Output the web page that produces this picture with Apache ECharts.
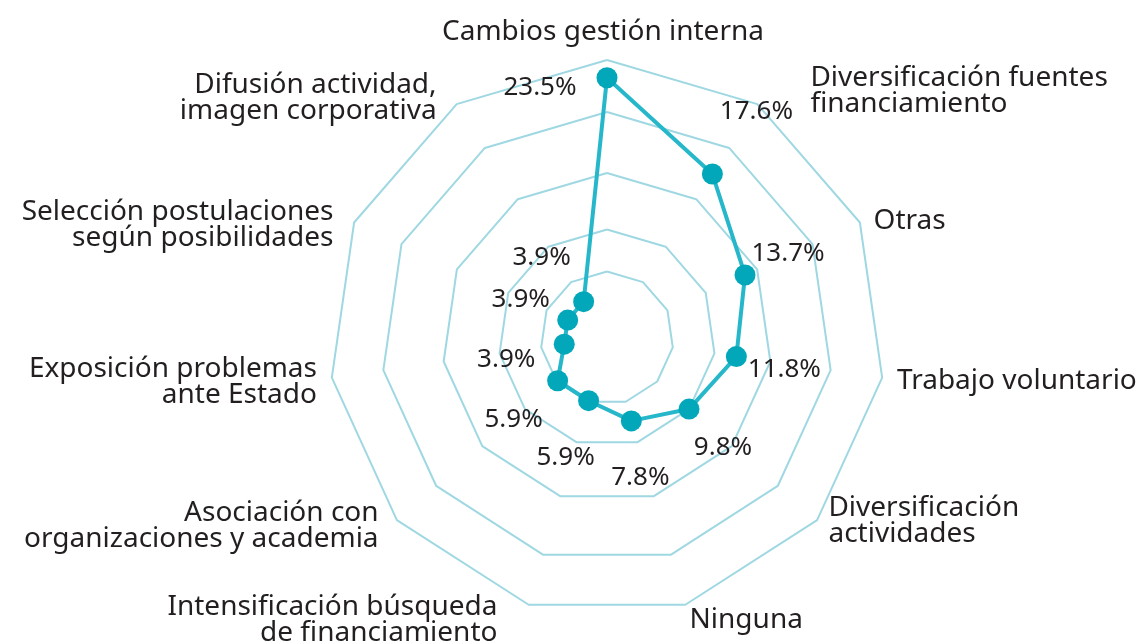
<!DOCTYPE html>
<html>
<head>
<meta charset="utf-8">
<script src="https://cdn.jsdelivr.net/npm/echarts@6/dist/echarts.min.js"></script>
<style>
  html, body { margin: 0; padding: 0; background: #fff; }
  #chart { width: 1137px; height: 641px; }
</style>
</head>
<body>
<div id="chart"></div>
<script>
// ejes en sentido horario, desde arriba
const categories = [
  'Cambios gestión interna',
  'Diversificación fuentes\nfinanciamiento',
  'Otras',
  'Trabajo voluntario',
  'Diversificación\nactividades',
  'Ninguna',
  'Intensificación búsqueda\nde financiamiento',
  'Asociación con\norganizaciones y academia',
  'Exposición problemas\nante Estado',
  'Selección postulaciones\nsegún posibilidades',
  'Difusión actividad,\nimagen corporativa'
];
const values = [23.5, 17.6, 13.7, 11.8, 9.8, 7.8, 5.9, 5.9, 3.9, 3.9, 3.9];
const ringLevels = [6, 9.8, 14.9, 20.4, 25.1];
const axisMax = 25.1;

// layout (px)
const CX = 607, CY = 338, RADIUS = 278;
const nameShift = [[-8, 0], [45, 0], [0, 5], [0, 1], [0, -9], [0, 1], [-27, 1], [-7, -4], [0, 2], [-7, 9], [-12, 7]];
const labelOffsets = [[-67, 10], [44, -62], [43, -21], [48, 13], [34, 39], [9, 57], [-23, 57], [-44, 39], [-58, 15], [-47, -20], [-42, -44]];

const TEXT = '#231f20';
const FONT = 'Noto Sans';
const n = categories.length;

// echarts dibuja los ejes en sentido antihorario -> reordenar
const order = categories.map((_, i) => (n - i) % n);

const rich = {};
nameShift.forEach(([dx, dy], k) => {
  rich['n' + k] = {
    color: TEXT, fontFamily: FONT, fontSize: 28, lineHeight: 26,
    padding: [Math.max(2 * dy, 0), Math.max(-dx, 0), Math.max(-2 * dy, 0), Math.max(dx, 0)]
  };
});

const chart = echarts.init(document.getElementById('chart'));

const ringSeries = ringLevels.map(level => ({
  type: 'radar',
  silent: true,
  symbol: 'none',
  z: 1,
  lineStyle: { color: '#9fd8e2', width: 2 },
  data: [{ value: order.map(() => level) }]
}));

chart.setOption({
  animation: false,
  radar: {
    center: [CX, CY],
    radius: RADIUS,
    startAngle: 90,
    shape: 'polygon',
    splitNumber: 1,
    nameGap: 15,
    indicator: order.map(i => ({ name: categories[i], min: 0, max: axisMax })),
    axisName: {
      color: TEXT,
      fontFamily: FONT,
      fontSize: 28,
      lineHeight: 26,
      formatter(name) {
        const k = categories.indexOf(name);
        return name.split('\n').map(l => `{n${k}|${l}}`).join('\n');
      },
      rich
    },
    splitLine: { show: false },
    splitArea: { show: false },
    axisLine: { show: false },
    axisTick: { show: false },
    axisLabel: { show: false }
  },
  series: [
    ...ringSeries,
    {
      type: 'radar',
      z: 3,
      symbol: 'circle',
      symbolSize: 21,
      lineStyle: { color: '#27b7ca', width: 4 },
      itemStyle: { color: '#03a7ba' },
      label: {
        show: true,
        position: 'inside',
        color: TEXT,
        fontFamily: FONT,
        fontSize: 26,
        formatter: p => p.value.toFixed(1) + '%'
      },
      labelLayout(p) {
        const sx = p.rect.x + p.rect.width / 2;
        const sy = p.rect.y + p.rect.height / 2;
        const a = Math.atan2(CY - sy, sx - CX) * 180 / Math.PI;
        const k = ((Math.round((90 - a) / (360 / n)) % n) + n) % n;
        const off = labelOffsets[k];
        return { x: sx + off[0], y: sy + off[1], align: 'center', verticalAlign: 'middle' };
      },
      emphasis: { disabled: true },
      data: [{ value: order.map(i => values[i]) }]
    }
  ]
});
</script>
</body>
</html>
